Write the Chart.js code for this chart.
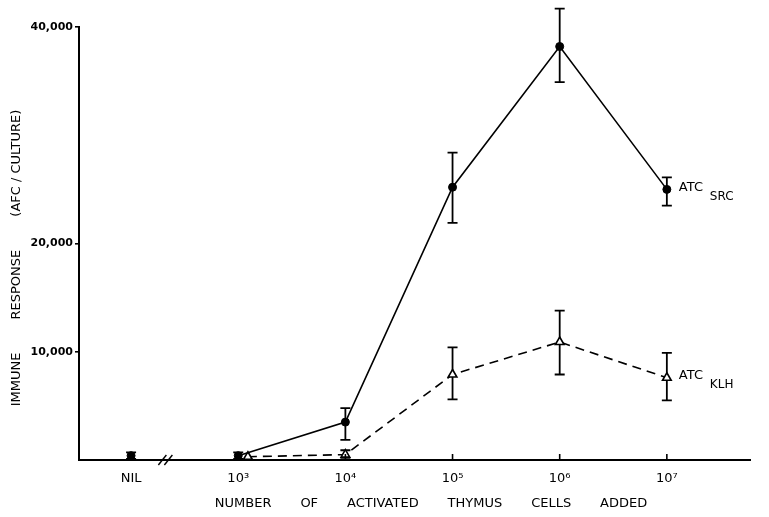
<!DOCTYPE html>
<html>
<head>
<meta charset="utf-8">
<script src="https://cdn.jsdelivr.net/npm/chart.js@4/dist/chart.umd.min.js"></script>
<style>
  html, body { margin: 0; padding: 0; background: #fff; }
  #grafico { display: block; }
</style>
</head>
<body>
<canvas id="grafico" width="769" height="517"></canvas>
<script>
// posicao no eixo x = log10 do numero de celulas (NIL fica antes da quebra)
const doseTicks = [2, 3, 4, 5, 6, 7];
const doseLabels = ['NIL', '10\u00B3', '10\u2074', '10\u2075', '10\u2076', '10\u2077'];
const yTicks = [10000, 20000, 40000];

// controle sem celulas
const nilDose = [2];
const nilMedia = [400];
const nilAlto = [700];
const nilBaixo = [100];

// ATC SRC (circulos cheios, linha solida)
const srcDoses = [3, 4, 5, 6, 7];
const srcMedia = [400, 3500, 25200, 38200, 25000];
const srcAlto = [700, 4800, 28400, 41700, 26100];
const srcBaixo = [100, 1850, 21900, 34900, 23500];

// ATC KLH (triangulos abertos, linha tracejada)
const klhDoses = [3.09, 4, 5, 6, 7];
const klhMedia = [300, 500, 7900, 10900, 7600];
const klhAlto = [300, 900, 10400, 13800, 9900];
const klhBaixo = [300, 200, 5600, 7900, 5500];

const fonte = 'DejaVu Sans, sans-serif';

function pontos(xs, ys) {
  return xs.map((x, i) => ({ x, y: ys[i] }));
}

// barras de erro, quebra do eixo, marcas do eixo x e rotulos das curvas
const extras = {
  id: 'extras',
  beforeDatasetsDraw(chart) {
    const { ctx, scales: { x, y } } = chart;
    ctx.save();
    ctx.strokeStyle = '#000';
    ctx.lineWidth = 1.8;
    const barras = (xs, alto, baixo) => {
      xs.forEach((v, i) => {
        if (alto[i] === baixo[i]) return;
        const px = x.getPixelForValue(v);
        const p1 = y.getPixelForValue(alto[i]);
        const p2 = y.getPixelForValue(baixo[i]);
        ctx.beginPath();
        ctx.moveTo(px, p1); ctx.lineTo(px, p2);
        ctx.moveTo(px - 5, p1); ctx.lineTo(px + 5, p1);
        ctx.moveTo(px - 5, p2); ctx.lineTo(px + 5, p2);
        ctx.stroke();
      });
    };
    barras(nilDose, nilAlto, nilBaixo);
    barras(srcDoses, srcAlto, srcBaixo);
    barras(klhDoses, klhAlto, klhBaixo);
    ctx.restore();
  },
  afterDraw(chart) {
    const { ctx, scales: { x, y } } = chart;
    const base = y.getPixelForValue(0);
    ctx.save();
    ctx.strokeStyle = '#000';
    ctx.lineWidth = 1.6;
    // marcas pequenas para cima no eixo x
    doseTicks.forEach(v => {
      const px = x.getPixelForValue(v);
      ctx.beginPath();
      ctx.moveTo(px, base); ctx.lineTo(px, base - 6);
      ctx.stroke();
    });
    // quebra do eixo "//"
    const bx = x.getPixelForValue(2.32);
    ctx.lineWidth = 1.4;
    [-3, 3].forEach(d => {
      ctx.beginPath();
      ctx.moveTo(bx + d - 4, base + 5);
      ctx.lineTo(bx + d + 4, base - 5);
      ctx.stroke();
    });
    // rotulos das curvas
    ctx.fillStyle = '#000';
    ctx.textBaseline = 'middle';
    ctx.textAlign = 'left';
    const ultimoX = x.getPixelForValue(7);
    ctx.font = '13px ' + fonte;
    ctx.fillText('ATC', ultimoX + 12, y.getPixelForValue(srcMedia[4]) - 2);
    ctx.fillText('ATC', ultimoX + 12, y.getPixelForValue(klhMedia[4]) - 2);
    ctx.font = '12px ' + fonte;
    ctx.fillText('SRC', ultimoX + 43, y.getPixelForValue(srcMedia[4]) + 7);
    ctx.fillText('KLH', ultimoX + 43, y.getPixelForValue(klhMedia[4]) + 7);
    ctx.restore();
  }
};

new Chart(document.getElementById('grafico'), {
  type: 'scatter',
  data: {
    datasets: [
      {
        label: 'NIL',
        data: pontos(nilDose, nilMedia),
        showLine: false,
        pointStyle: 'circle',
        pointRadius: 4,
        backgroundColor: '#000',
        borderColor: '#000'
      },
      {
        label: 'ATC SRC',
        data: pontos(srcDoses, srcMedia),
        showLine: true,
        borderColor: '#000',
        borderWidth: 1.6,
        backgroundColor: '#000',
        pointStyle: 'circle',
        pointRadius: 4,
        pointBorderWidth: 1
      },
      {
        label: 'ATC KLH',
        data: pontos(klhDoses, klhMedia),
        showLine: true,
        borderColor: '#000',
        borderWidth: 1.6,
        borderDash: [9, 6],
        pointStyle: 'triangle',
        pointRadius: 5,
        pointBackgroundColor: '#fff',
        pointBorderColor: '#000',
        pointBorderWidth: 1.6
      }
    ]
  },
  options: {
    responsive: false,
    animation: false,
    devicePixelRatio: 1,
    clip: false,
    layout: { padding: { left: 0, right: 19, top: 27, bottom: 0 } },
    plugins: {
      legend: { display: false },
      tooltip: { enabled: false }
    },
    scales: {
      x: {
        type: 'linear',
        min: 1.514,
        max: 7.776,
        afterBuildTicks: s => { s.ticks = doseTicks.map(v => ({ value: v })); },
        afterFit: s => { s.height = 57; },
        grid: { display: false },
        border: { display: true, color: '#000', width: 2 },
        ticks: {
          padding: 3,
          color: '#000',
          font: { family: fonte, size: 13 },
          maxRotation: 0,
          callback: v => doseLabels[doseTicks.indexOf(v)]
        },
        title: {
          display: true,
          text: '        NUMBER       OF       ACTIVATED       THYMUS       CELLS       ADDED',
          color: '#000',
          font: { family: fonte, size: 13 },
          padding: { top: 0, bottom: 6 }
        }
      },
      y: {
        min: 0,
        max: 40000,
        afterBuildTicks: s => { s.ticks = yTicks.map(v => ({ value: v })); },
        afterFit: s => { s.width = 79; },
        grid: { display: true, drawOnChartArea: false, drawTicks: true, tickLength: 4, color: '#000', lineWidth: 1.6 },
        border: { display: true, color: '#000', width: 2 },
        ticks: {
          padding: 2,
          color: '#000',
          font: { family: fonte, size: 11, weight: 'bold' },
          callback: v => v.toLocaleString('en-US')
        },
        title: {
          display: true,
          text: 'IMMUNE        RESPONSE        (AFC / CULTURE)       ',
          color: '#000',
          font: { family: fonte, size: 13 },
          padding: { top: 9, bottom: 0 }
        }
      }
    }
  },
  plugins: [extras]
});
</script>
</body>
</html>
